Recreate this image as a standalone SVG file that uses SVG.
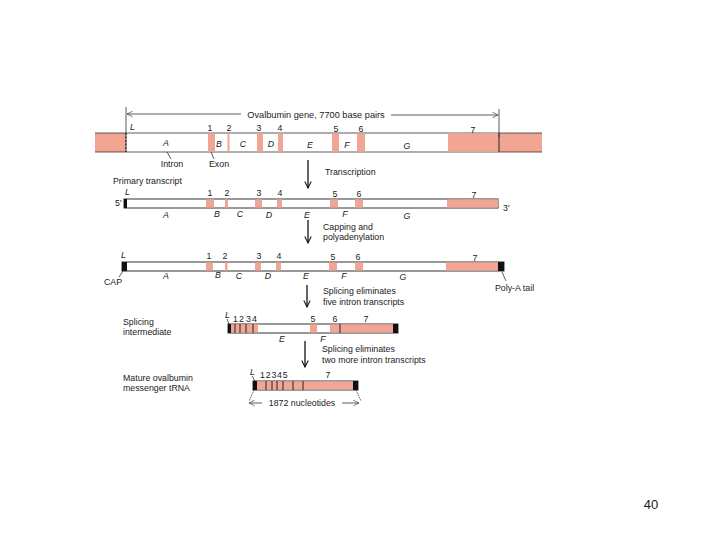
<svg xmlns="http://www.w3.org/2000/svg" width="720" height="540" viewBox="0 0 720 540">
<defs>
<style>
text{font-family:"Liberation Sans",Arial,sans-serif;font-size:8.8px;fill:#1a1a1a}
.it{font-style:italic}
.bar{fill:#fff;stroke:#333;stroke-width:1}
.ex{fill:#f3a594;stroke:none}
.blk{fill:#111}
.ln{stroke:#333;stroke-width:0.8;fill:none}
.arr{stroke:#111;stroke-width:1.3;fill:none}
.mid{text-anchor:middle}
</style>
<marker id="v" viewBox="0 0 10 10" refX="9" refY="5" markerWidth="8" markerHeight="8" orient="auto" markerUnits="userSpaceOnUse"><path d="M1,1 L9,5 L1,9" fill="none" stroke="#111" stroke-width="1.3"/></marker>
<marker id="d" viewBox="0 0 10 10" refX="9" refY="5" markerWidth="7" markerHeight="7" orient="auto" markerUnits="userSpaceOnUse"><path d="M1,1 L9,5 L1,9" fill="none" stroke="#444" stroke-width="1"/></marker>
</defs>
<rect width="720" height="540" fill="#fff"/>

<g id="gene">
<rect class="ex" x="95" y="133" width="31" height="19"/>
<rect class="ex" x="499" y="133" width="43" height="19"/>
<line class="ln" x1="95" y1="133" x2="542" y2="133"/>
<line class="ln" x1="95" y1="152" x2="542" y2="152"/>
<rect class="ex" x="208" y="133.5" width="7" height="18"/>
<rect class="ex" x="227.5" y="133.5" width="2" height="18"/>
<rect class="ex" x="257" y="133.5" width="6" height="18"/>
<rect class="ex" x="278" y="133.5" width="5" height="18"/>
<rect class="ex" x="332" y="133.5" width="7" height="18"/>
<rect class="ex" x="357" y="133.5" width="8" height="18"/>
<rect class="ex" x="448" y="133.5" width="51" height="18"/>
<line x1="126" y1="133" x2="126" y2="152" stroke="#222" stroke-width="1.2" stroke-dasharray="2,1.5"/>
<line x1="499" y1="133" x2="499" y2="152" stroke="#222" stroke-width="1"/>
<text x="130" y="130" class="it">L</text>
<text x="210" y="131" class="mid">1</text><text x="229" y="131" class="mid">2</text>
<text x="259" y="131" class="mid">3</text><text x="280" y="131" class="mid">4</text>
<text x="336" y="132" class="mid">5</text><text x="361" y="132" class="mid">6</text>
<text x="473" y="133" class="mid">7</text>
<text x="166" y="146" class="it mid">A</text><text x="219" y="147" class="it mid">B</text>
<text x="243" y="147" class="it mid">C</text><text x="271" y="147" class="it mid">D</text>
<text x="310" y="148" class="it mid">E</text><text x="347" y="148" class="it mid">F</text>
<text x="407" y="149" class="it mid">G</text>
<text x="172" y="167" class="mid">Intron</text>
<text x="219" y="167" class="mid">Exon</text>
<line class="ln" x1="167" y1="152" x2="171" y2="159"/>
<line class="ln" x1="211" y1="152" x2="214" y2="159"/>
<text x="113" y="184">Primary transcript</text>
</g>

<g id="dimension">
<line class="ln" x1="126" y1="107" x2="126" y2="152"/>
<line class="ln" x1="499" y1="109" x2="499" y2="137"/>
<line class="ln" x1="241" y1="114" x2="127" y2="114" marker-end="url(#d)"/>
<line class="ln" x1="391" y1="115" x2="498" y2="115" marker-end="url(#d)"/>
<text x="316" y="118" class="mid" style="font-size:9.2px">Ovalbumin gene, 7700 base pairs</text>
</g>

<g id="primary">
<rect class="bar" x="124" y="199" width="374" height="9"/>
<rect class="ex" x="206" y="199.5" width="8" height="8"/>
<rect class="ex" x="225" y="199.5" width="3" height="8"/>
<rect class="ex" x="255" y="199.5" width="7" height="8"/>
<rect class="ex" x="277" y="199.5" width="5" height="8"/>
<rect class="ex" x="330" y="199.5" width="8" height="8"/>
<rect class="ex" x="355" y="199.5" width="8" height="8"/>
<rect class="ex" x="447" y="199.5" width="51" height="8"/>
<rect class="blk" x="124" y="199" width="3" height="9"/>
<text x="125" y="195" class="it">L</text>
<text x="115" y="206">5′</text>
<text x="503" y="211">3′</text>
<text x="210" y="196" class="mid">1</text><text x="227" y="196" class="mid">2</text>
<text x="259" y="196" class="mid">3</text><text x="280" y="196" class="mid">4</text>
<text x="335" y="197" class="mid">5</text><text x="359" y="197" class="mid">6</text>
<text x="474" y="198" class="mid">7</text>
<text x="166" y="218" class="it mid">A</text><text x="217" y="217" class="it mid">B</text>
<text x="240" y="217" class="it mid">C</text><text x="269" y="218" class="it mid">D</text>
<text x="307" y="218" class="it mid">E</text><text x="345" y="217" class="it mid">F</text>
<text x="407" y="219" class="it mid">G</text>
</g>

<g id="capped">
<rect class="bar" x="122" y="262" width="382" height="9"/>
<rect class="ex" x="206" y="262.5" width="7" height="8"/>
<rect class="ex" x="225" y="262.5" width="2.5" height="8"/>
<rect class="ex" x="255" y="262.5" width="6" height="8"/>
<rect class="ex" x="276" y="262.5" width="5" height="8"/>
<rect class="ex" x="329" y="262.5" width="8" height="8"/>
<rect class="ex" x="355" y="262.5" width="8" height="8"/>
<rect class="ex" x="446" y="262.5" width="52" height="8"/>
<rect class="blk" x="122" y="262" width="5" height="9"/>
<rect class="blk" x="498" y="262" width="6" height="9"/>
<text x="121" y="258" class="it">L</text>
<text x="209" y="259" class="mid">1</text><text x="225" y="259" class="mid">2</text>
<text x="259" y="259" class="mid">3</text><text x="279" y="259" class="mid">4</text>
<text x="333" y="260" class="mid">5</text><text x="358" y="260" class="mid">6</text>
<text x="475" y="261" class="mid">7</text>
<text x="166" y="279" class="it mid">A</text><text x="218" y="278" class="it mid">B</text>
<text x="239" y="279" class="it mid">C</text><text x="268" y="279" class="it mid">D</text>
<text x="306" y="279" class="it mid">E</text><text x="344" y="279" class="it mid">F</text>
<text x="403" y="280" class="it mid">G</text>
<text x="104" y="285">CAP</text>
<line class="ln" x1="123" y1="271" x2="119" y2="277"/>
<text x="495" y="291">Poly-A tail</text>
<line class="ln" x1="502" y1="272" x2="506" y2="281"/>
</g>

<g id="intermediate">
<rect class="bar" x="228" y="324" width="170" height="9"/>
<rect class="ex" x="231" y="324.5" width="27" height="8"/>
<rect class="ex" x="310" y="324.5" width="7" height="8"/>
<rect class="ex" x="330" y="324.5" width="63" height="8"/>
<rect class="blk" x="228" y="324" width="3" height="9"/>
<rect class="blk" x="393" y="324" width="5" height="9"/>
<g stroke="#222" stroke-width="1">
<line x1="235" y1="324" x2="235" y2="333"/><line x1="240" y1="324" x2="240" y2="333"/>
<line x1="246" y1="324" x2="246" y2="333"/><line x1="253" y1="324" x2="253" y2="333"/>
<line x1="340" y1="324" x2="340" y2="333"/>
</g>
<text x="225" y="318" class="it">L</text>
<line class="ln" x1="227" y1="319" x2="229" y2="324"/>
<text x="233" y="322">1</text><text x="239" y="322">2</text>
<text x="246" y="322">3</text><text x="252" y="322">4</text>
<text x="313" y="322" class="mid">5</text><text x="335" y="322" class="mid">6</text>
<text x="366" y="322" class="mid">7</text>
<text x="282" y="342" class="it mid">E</text><text x="323" y="342" class="it mid">F</text>
<text x="123" y="325">Splicing</text>
<text x="123" y="335">intermediate</text>
</g>

<g id="mature">
<rect class="bar" x="253" y="381" width="105" height="9"/>
<rect class="ex" x="257" y="381.5" width="96" height="8"/>
<rect class="blk" x="253" y="381" width="4" height="9"/>
<rect class="blk" x="353" y="381" width="5" height="9"/>
<g stroke="#222" stroke-width="1">
<line x1="266" y1="381" x2="266" y2="390"/><line x1="272" y1="381" x2="272" y2="390"/>
<line x1="277" y1="381" x2="277" y2="390"/><line x1="283" y1="381" x2="283" y2="390"/>
<line x1="293" y1="381" x2="293" y2="390"/><line x1="303" y1="381" x2="303" y2="390"/>
</g>
<text x="250" y="375" class="it">L</text>
<line class="ln" x1="252" y1="376" x2="255" y2="381"/>
<text x="260" y="378" style="letter-spacing:0.8px">12345</text>
<text x="328" y="378" class="mid">7</text>
<text x="123" y="381">Mature ovalbumin</text>
<text x="123" y="391">messenger tRNA</text>
<line class="ln" x1="254" y1="390" x2="249" y2="401" stroke-dasharray="1.5,1"/>
<line class="ln" x1="356" y1="390" x2="361" y2="401" stroke-dasharray="1.5,1"/>
<line class="ln" x1="262" y1="403" x2="249" y2="403" marker-end="url(#d)"/>
<line class="ln" x1="342" y1="403" x2="359" y2="403" marker-end="url(#d)"/>
<text x="302" y="406" class="mid">1872 nucleotides</text>
</g>

<g id="connectors">
<line class="arr" x1="308" y1="160" x2="308" y2="188" marker-end="url(#v)"/>
<line class="arr" x1="308" y1="220" x2="308" y2="243" marker-end="url(#v)"/>
<line class="arr" x1="307" y1="285" x2="307" y2="307" marker-end="url(#v)"/>
<line class="arr" x1="305" y1="341" x2="305" y2="367" marker-end="url(#v)"/>
</g>

<g id="step-labels">
<text x="325" y="175">Transcription</text>
<text x="323" y="230">Capping and</text>
<text x="323" y="240">polyadenylation</text>
<text x="323" y="294">Splicing eliminates</text>
<text x="323" y="305">five intron transcripts</text>
<text x="322" y="352">Splicing eliminates</text>
<text x="322" y="363">two more intron transcripts</text>
</g>

<text x="651" y="509" class="mid" style="font-size:13px">40</text>
</svg>
